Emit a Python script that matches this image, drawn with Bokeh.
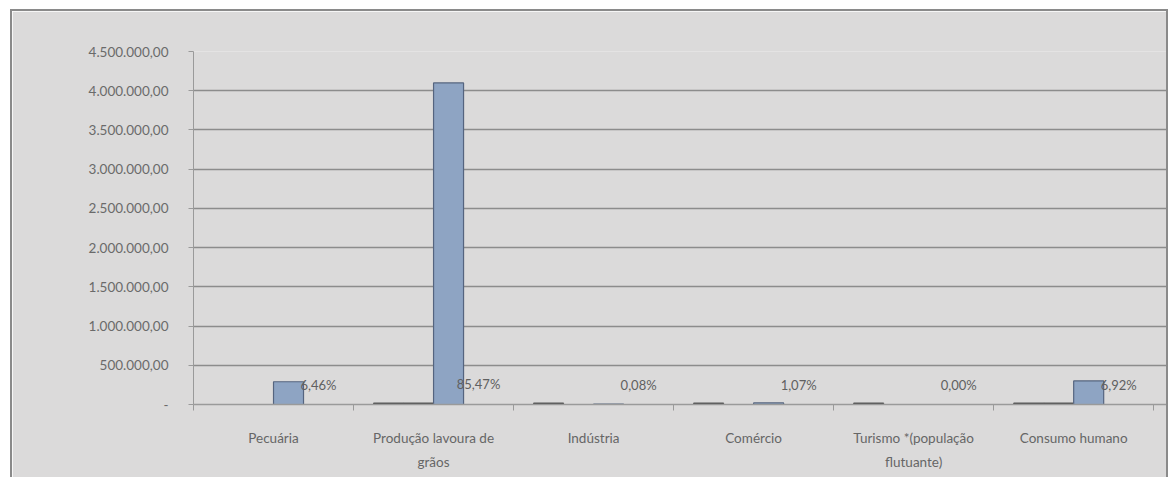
from bokeh.plotting import figure
from bokeh.models import Range1d, FixedTicker, ColumnDataSource
from bokeh.core.properties import value
from bokeh.embed import file_html
from bokeh.resources import INLINE

nan = float("nan")

categorias = ["Pecuária", "Produção lavoura de\ngrãos", "Indústria", "Comércio",
              "Turismo *(população\nflutuante)", "Consumo humano"]
serie_1 = [nan, 20000, 20000, 20000, 20000, 20000]
serie_2 = [nan, 20000, nan, nan, nan, 20000]
volume = [290000, 4100000, 3800, 20000, 100, 300000]
percentual = [6.46, 85.47, 0.08, 1.07, 0.00, 6.92]
y_ticks = [0, 500000, 1000000, 1500000, 2000000, 2500000, 3000000, 3500000, 4000000, 4500000]
y_tick_labels = ["-", "500.000,00", "1.000.000,00", "1.500.000,00", "2.000.000,00",
                 "2.500.000,00", "3.000.000,00", "3.500.000,00", "4.000.000,00", "4.500.000,00"]

BG = "#dbdada"
FONT = "Lato"
BAR_W = 30 / 160
OFFS = [-45 / 160, -15 / 160, 15 / 160, 45 / 160]

n = len(categorias)
centers = [i + 0.5 for i in range(n)]

p = figure(width=1158, height=468, output_backend="svg", toolbar_location=None,
           x_range=Range1d(0, 6.08), y_range=Range1d(0, 4500000),
           min_border_left=181, min_border_right=4, min_border_top=40, min_border_bottom=75,
           background_fill_color=BG, border_fill_color=BG)
p.margin = (9, 0, 0, 10)
p.styles = {"border-left": "2px solid #8a8a8a", "border-top": "2px solid #8a8a8a",
            "border-right": "2px solid #8a8a8a"}
p.outline_line_color = None

# dash series (near-zero values)
src1 = ColumnDataSource(dict(x=[c + OFFS[0] for c in centers], top=serie_1))
src2 = ColumnDataSource(dict(x=[c + OFFS[1] for c in centers], top=serie_2))
p.vbar(x="x", top="top", width=BAR_W, source=src1, fill_color="#4d4d4d", line_color="#4d4d4d", line_width=0.8)
p.vbar(x="x", top="top", width=BAR_W, source=src2, fill_color="#4d4d4d", line_color="#4d4d4d", line_width=0.8)

# main volume series
src3 = ColumnDataSource(dict(x=[c + OFFS[2] for c in centers], top=volume))
p.vbar(x="x", top="top", width=BAR_W, source=src3, fill_color="#8ea4c3", line_color="#55647f", line_width=1.2)

# percentage labels
src4 = ColumnDataSource(dict(x=[c + OFFS[3] for c in centers], y=[v / 100 for v in percentual],
                             t=[("%.2f%%" % v).replace(".", ",") for v in percentual]))
p.text(x="x", y="y", text="t", source=src4, text_align="center", text_baseline="middle",
       y_offset=-20, text_font=value(FONT), text_font_size="13px", text_color="#606060")

# y axis
p.yaxis.ticker = FixedTicker(ticks=y_ticks)
p.yaxis.major_label_overrides = {t: l for t, l in zip(y_ticks, y_tick_labels)}
p.yaxis.major_label_text_font = FONT
p.yaxis.major_label_text_font_size = "13.5px"
p.yaxis.major_label_text_color = "#6a6a6a"
p.yaxis.major_label_standoff = 20
p.yaxis.major_tick_out = 5
p.yaxis.major_tick_in = 0
p.yaxis.major_tick_line_color = "#9a9a9a"
p.yaxis.minor_tick_line_color = None
p.yaxis.axis_line_color = "#9a9a9a"

p.ygrid.ticker = FixedTicker(ticks=y_ticks)
p.ygrid.grid_line_color = "#8c8c8c"
p.ygrid.grid_line_width = 1.3
p.xgrid.grid_line_color = None

# x axis
p.xaxis.ticker = FixedTicker(ticks=centers, minor_ticks=list(range(n + 1)))
p.xaxis.major_label_overrides = {c: l for c, l in zip(centers, categorias)}
p.xaxis.major_label_text_font = FONT
p.xaxis.major_label_text_font_size = "13.5px"
p.xaxis.major_label_text_color = "#666666"
p.xaxis.major_label_text_line_height = 1.5
p.xaxis.major_label_standoff = 19
p.xaxis.major_tick_out = 0
p.xaxis.major_tick_in = 0
p.xaxis.minor_tick_out = 6
p.xaxis.minor_tick_in = 0
p.xaxis.minor_tick_line_color = "#9a9a9a"
p.xaxis.axis_line_color = "#9a9a9a"
p.xaxis.axis_line_width = 1.3

open("out.html", "w").write(file_html(p, INLINE))
